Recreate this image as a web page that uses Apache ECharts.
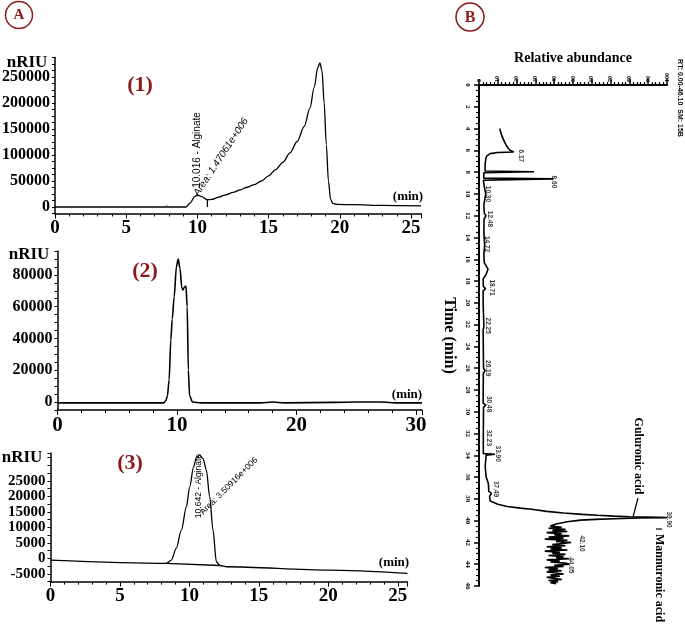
<!DOCTYPE html>
<html><head><meta charset="utf-8">
<script src="https://cdn.jsdelivr.net/npm/echarts@6/dist/echarts.min.js"></script>
<style>html,body{margin:0;padding:0;background:#fff}#c{width:685px;height:625px}</style>
</head><body><div id="c"></div>
<script>
// ---------- Panel A(1) ----------
const p1Time   = [0, 7.8, 9.2, 9.5, 9.8, 10.0, 10.3, 10.7, 11.0, 11.5, 12.0, 12.5, 13.0, 13.5, 14.0, 14.5, 15.0, 15.5, 16.0, 16.5, 17.0, 17.5, 17.9, 18.2, 18.45, 18.6, 18.75, 18.9, 19.05, 19.2, 19.35, 19.5, 19.8, 21, 23, 25.7];
const p1Signal = [0, 0, 0, 8000, 20000, 23500, 20000, 14000, 14500, 19000, 23500, 28000, 33000, 38000, 43000, 50000, 60000, 72000, 86000, 104000, 126000, 155000, 190000, 230000, 268000, 277000, 262000, 200000, 120000, 50000, 15000, 7000, 5000, 4500, 3000, 2000];
const p1DropTime = [10.7, 10.7];
const p1DropSignal = [0, 14000];
const p1TickTime = [7.85, 7.85];
const p1TickSignal = [0, 4000];
// ---------- Panel A(2) ----------
const p2Time   = [0, 8.9, 9.07, 9.2, 9.34, 9.48, 9.6, 9.76, 9.95, 10.1, 10.25, 10.4, 10.5, 10.6, 10.75, 10.85, 10.95, 11.05, 11.3, 12, 17, 18, 19, 23, 25, 27, 28.5, 30.5];
const p2Signal = [-500, -500, 1000, 4000, 14000, 39000, 52000, 66000, 85000, 90000, 84000, 72000, 70500, 72000, 73000, 60000, 20000, 4000, 0, -500, -500, 0, -500, -200, 0, 0, -500, -500];
// ---------- Panel A(3) ----------
const p3Time   = [0, 8.34, 8.7, 9.06, 9.42, 9.78, 10.02, 10.3, 10.5, 10.74, 10.98, 11.22, 11.46, 11.7, 11.94, 12.2, 12.7, 20, 25.7];
const p3Signal = [-550, -1600, -550, 3300, 9100, 16600, 23100, 29500, 32500, 33300, 32200, 28500, 19900, 9100, -1100, -2300, -2700, -3770, -4840];
const p3BaseTime = [8.34, 12.2];
const p3BaseSignal = [-1600, -2300];
// ---------- Panel B (time vs relative abundance) ----------
const msTime = [4.0, 4.6, 5.2, 5.7, 6.0, 6.15, 6.2, 6.3, 6.5, 6.7, 7.2, 7.9, 7.96, 7.99, 8.05, 8.55, 8.62, 8.66, 8.75, 9.3, 10.0, 10.3, 11.0, 11.8, 12.0, 12.3, 13.5, 14.7, 15.5, 16.3, 16.9, 17.4, 17.8, 18.5, 18.7, 18.9, 20, 22.2, 22.5, 26.0, 26.2, 26.5, 29.2, 29.4, 29.6, 32.0, 33.85, 33.9, 33.95, 34.0, 35.0, 36.0, 36.6, 37.3, 37.5, 37.8, 38.2, 38.5, 38.7, 38.85, 38.95, 39.15, 39.3, 39.42, 39.5, 39.58, 39.64, 39.68, 39.72, 39.76, 39.82, 39.88, 39.95, 40.1, 40.3,
  40.5, 40.6, 40.7, 40.8, 40.9, 41.0, 41.1, 41.2, 41.3, 41.4, 41.5, 41.6, 41.7, 41.8, 41.9, 42.0, 42.1, 42.2, 42.3, 42.4, 42.5, 42.6, 42.7, 42.8, 42.9, 43.0, 43.1, 43.2, 43.3, 43.4, 43.5, 43.6, 43.7, 43.8, 43.9, 44.0, 44.1, 44.2, 44.3, 44.4, 44.5, 44.6, 44.7, 44.8, 44.9, 45.0, 45.1, 45.2, 45.3, 45.4, 45.5, 45.6, 45.7, 45.8];
const msAbundance = [11, 12, 13.5, 15, 16.5, 18.5, 10, 5.9, 4.2, 3.7, 3.3, 3.2, 29.3, 29.3, 2.6, 2.5, 39.5, 39.5, 2.3, 2.8, 3.6, 3.3, 2.6, 2.8, 3.8, 2.7, 2.6, 3.0, 2.6, 2.8, 4.8, 3.8, 2.2, 2.3, 3.5, 2.2, 2.2, 2.6, 2.2, 2.4, 3.2, 2.3, 2.2, 3.6, 2.4, 2.3, 2.3, 8.5, 8.5, 3.8, 3.3, 3.8, 5.0, 5.2, 6.6, 5.6, 6.0, 10, 15, 22, 28, 36, 45, 55, 63, 72, 80, 90, 100, 85, 72, 62, 54, 47, 41,
  38, 44, 37, 46, 39, 47, 36, 44, 40, 48, 37, 45, 35, 47, 41, 49, 50, 39, 46, 36, 44, 38, 47, 35, 43, 39, 46, 37, 45, 41, 48, 36, 43, 38, 46, 48, 40, 45, 35, 42, 37, 44, 36, 41, 45, 38, 43, 36, 40, 44, 37, 42, 38, 41];
const msPeakNames = ['6.17', '8.60', '10.30', '12.48', '14.72', '18.71', '22.25', '26.19', '30.48', '32.23', '33.90', '37.49', '39.90', '42.10', '44.05'];
const msPeakAbund = [22.3, 39.9, 4.8, 5.9, 4.3, 6.9, 4.8, 4.8, 5.3, 5.3, 10.1, 9.0, 101, 54.8, 48.9];
const msPeakTime  = [6.51, 8.9, 10.0, 12.3, 14.6, 18.6, 22.1, 26.0, 29.3, 32.4, 33.85, 37.1, 39.9, 42.1, 44.1];

const zip = (a, b) => a.map((v, i) => [v, b[i]]);
const SERIF = 'Liberation Serif, Times New Roman, serif';
const SANS = 'Liberation Sans, Arial, sans-serif';
const RED = '#8b1a1a';

function aXAxis(grid, max, interval, fontSize) {
  return {
    type: 'value', gridIndex: grid, min: 0, max: max, interval: interval, position: 'bottom',
    axisLine: { onZero: false, lineStyle: { color: '#000', width: 1.5 } },
    axisTick: { length: 5, lineStyle: { color: '#000' } },
    minorTick: { show: true, splitNumber: 5, length: 3, lineStyle: { color: '#000' } },
    splitLine: { show: false },
    axisLabel: { color: '#000', fontFamily: SERIF, fontWeight: 'bold', fontSize: fontSize, margin: 5 }
  };
}
function aYAxis(grid, min, max, interval, step, top, fontSize) {
  return {
    type: 'value', gridIndex: grid, min: min, max: max, interval: interval,
    axisLine: { show: true, onZero: false, lineStyle: { color: '#000', width: 1.5 } },
    axisTick: { show: true, length: 3, lineStyle: { color: '#000' } },
    splitLine: { show: false },
    axisLabel: { color: '#000', fontFamily: SERIF, fontWeight: 'bold', fontSize: fontSize, margin: 5,
      formatter: v => { const r = Math.round(v); return (r % step === 0 && r >= (min <= -step ? -step : 0) && r <= top) ? String(r) : ''; } }
  };
}
function rtext(x, y, text, rot, font, fill, weight, style) {
  return { type: 'text', x: x, y: y, rotation: rot, z: 100,
    style: { text: text, fontFamily: font[0], fontSize: font[1], fontWeight: weight || 'normal', fontStyle: style || 'normal',
      fill: fill || '#000', align: 'center', verticalAlign: 'middle', textAlign: 'center', textVerticalAlign: 'middle' } };
}

const lineBase = { type: 'line', showSymbol: false, symbol: 'none', lineStyle: { color: '#000', width: 1.3 }, animation: false };

const option = {
  animation: false,
  backgroundColor: '#fff',
  grid: [
    { left: 55, top: 57.5, width: 366, height: 156, outerBoundsMode: 'none', containLabel: false },
    { left: 57.5, top: 251, width: 364.5, height: 159, outerBoundsMode: 'none', containLabel: false },
    { left: 50.5, top: 453, width: 357, height: 128.6, outerBoundsMode: 'none', containLabel: false },
    { left: 479, top: 85, width: 188, height: 501, outerBoundsMode: 'none', containLabel: false }
  ],
  xAxis: [
    aXAxis(0, 25.7, 5, 19),
    aXAxis(1, 30.5, 10, 21),
    aXAxis(2, 25.7, 5, 19),
    {
      type: 'value', gridIndex: 3, min: 0, max: 100, interval: 10, position: 'top',
      name: 'Relative abundance', nameLocation: 'middle', nameGap: 18,
      nameTextStyle: { fontFamily: SERIF, fontWeight: 'bold', fontSize: 14, color: '#000' },
      axisLine: { onZero: false, lineStyle: { color: '#000', width: 2 } },
      axisTick: { length: 6, lineStyle: { color: '#000', width: 1.5 } },
      minorTick: { show: true, splitNumber: 5, length: 3, lineStyle: { color: '#000', width: 1.2 } },
      splitLine: { show: false },
      axisLabel: { rotate: -90, color: '#000', fontFamily: SERIF, fontWeight: 'bold', fontSize: 6, margin: 3 }
    }
  ],
  yAxis: [
    aYAxis(0, -12500, 287500, 12500, 50000, 250000, 16),
    aYAxis(1, -5000, 95000, 5000, 20000, 80000, 16),
    aYAxis(2, -7500, 34000, 2500, 5000, 25000, 15),
    {
      type: 'value', gridIndex: 3, min: 0, max: 46, interval: 2, inverse: true,
      name: 'Time (min)', nameLocation: 'middle', nameGap: 22, nameRotate: -90,
      nameTextStyle: { fontFamily: SERIF, fontWeight: 'bold', fontSize: 16, color: '#000' },
      axisLine: { onZero: false, lineStyle: { color: '#000', width: 2 } },
      axisTick: { length: 5, lineStyle: { color: '#000', width: 1.5 } },
      minorTick: { show: true, splitNumber: 4, length: 3, lineStyle: { color: '#000', width: 1.2 } },
      splitLine: { show: false },
      axisLabel: { rotate: -90, color: '#000', fontFamily: SERIF, fontWeight: 'bold', fontSize: 7, margin: 8 }
    }
  ],
  series: [
    Object.assign({}, lineBase, { xAxisIndex: 0, yAxisIndex: 0, data: zip(p1Time, p1Signal), smooth: 0.3, smoothMonotone: 'x' }),
    Object.assign({}, lineBase, { xAxisIndex: 0, yAxisIndex: 0, data: zip(p1DropTime, p1DropSignal) }),
    Object.assign({}, lineBase, { xAxisIndex: 0, yAxisIndex: 0, data: zip(p1TickTime, p1TickSignal), lineStyle: { color: '#555', width: 1 } }),
    Object.assign({}, lineBase, { xAxisIndex: 1, yAxisIndex: 1, data: zip(p2Time, p2Signal), smooth: 0.3, smoothMonotone: 'x', lineStyle: { color: '#000', width: 1.6 } }),
    Object.assign({}, lineBase, { xAxisIndex: 2, yAxisIndex: 2, data: zip(p3Time, p3Signal), smooth: 0.3, smoothMonotone: 'x' }),
    Object.assign({}, lineBase, { xAxisIndex: 2, yAxisIndex: 2, data: zip(p3BaseTime, p3BaseSignal) }),
    Object.assign({}, lineBase, { xAxisIndex: 3, yAxisIndex: 3, data: zip(msAbundance, msTime), lineStyle: { color: '#000', width: 1.6 } }),
    {
      type: 'scatter', xAxisIndex: 3, yAxisIndex: 3, symbolSize: 0, clip: false, silent: true,
      data: msPeakNames.map((n, i) => ({ name: n, value: [msPeakAbund[i], msPeakTime[i]] })),
      label: { show: true, position: 'inside', rotate: -90, formatter: p => p.name,
        fontFamily: SANS, fontWeight: 'bold', fontSize: 6.5, color: '#000' }
    }
  ],
  graphic: [
    { type: 'circle', shape: { cx: 19, cy: 15, r: 13.5 }, style: { fill: 'none', stroke: RED, lineWidth: 1.5 } },
    rtext(19, 15.5, 'A', 0, [SERIF, 15], RED, 'bold'),
    { type: 'circle', shape: { cx: 470, cy: 17, r: 14 }, style: { fill: 'none', stroke: RED, lineWidth: 1.5 } },
    rtext(470, 17.5, 'B', 0, [SERIF, 16], RED, 'bold'),
    rtext(140, 85, '(1)', 0, [SERIF, 22], RED, 'bold'),
    rtext(145, 271, '(2)', 0, [SERIF, 22], RED, 'bold'),
    rtext(130, 463, '(3)', 0, [SERIF, 22], RED, 'bold'),
    rtext(27, 63, 'nRIU', 0, [SERIF, 17], '#000', 'bold'),
    rtext(29, 255, 'nRIU', 0, [SERIF, 17], '#000', 'bold'),
    rtext(22, 458, 'nRIU', 0, [SERIF, 17], '#000', 'bold'),
    rtext(408, 197, '(min)', 0, [SERIF, 13], '#000', 'bold'),
    rtext(407, 395, '(min)', 0, [SERIF, 13], '#000', 'bold'),
    rtext(394, 563, '(min)', 0, [SERIF, 13], '#000', 'bold'),
    rtext(197.5, 150, '10.016 - Alginate', Math.PI / 2, [SANS, 10]),
    rtext(221, 157, 'Area: 1.47061e+006', Math.atan2(70, 46), [SANS, 10], '#000', 'normal', 'italic'),
    rtext(198.5, 486, '10.642 - Alginate', Math.PI / 2, [SANS, 8.5]),
    rtext(229, 486, 'Area: 3.50916e+006', Math.PI / 4, [SANS, 8.5]),
    rtext(638, 456, 'Guluronic acid', -Math.PI / 2, [SERIF, 12], '#000', 'bold'),
    { type: 'line', shape: { x1: 638, y1: 498, x2: 633, y2: 517 }, style: { stroke: '#000', lineWidth: 1.2 } },
    { type: 'line', shape: { x1: 656, y1: 529, x2: 662, y2: 529 }, style: { stroke: '#000', lineWidth: 1.2 } },
    rtext(659, 578, 'Mannuronic acid', -Math.PI / 2, [SERIF, 12], '#000', 'bold'),
    rtext(680, 98, 'RT: 0.00-46.10  SM: 15B', -Math.PI / 2, [SANS, 7], '#000', 'bold')
  ]
};
const chart = echarts.init(document.getElementById('c'), null, { renderer: 'canvas' });
chart.setOption(option);
</script>
</body></html>
